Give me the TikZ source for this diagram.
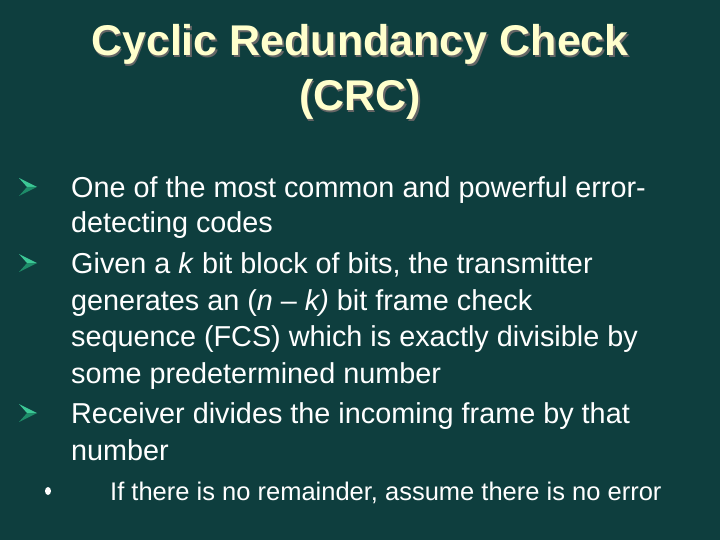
\documentclass[tikz,border=0pt]{standalone}
\usepackage{fontspec}
\setmainfont{Liberation Sans}
\definecolor{bg}{RGB}{14,62,62}
\definecolor{ttl}{RGB}{255,255,204}
\definecolor{blt}{RGB}{60,200,150}
\definecolor{bltd}{RGB}{30,140,105}
\begin{document}
\begin{tikzpicture}[x=1pt,y=-1pt,
  body/.style={anchor=base west,inner sep=0,text=white,font=\fontsize{28.8}{34}\selectfont},
  ttlstyle/.style={inner sep=0,anchor=base,font=\fontsize{43}{50}\bfseries\selectfont}]
\fill[bg] (0,0) rectangle (720,540);
\useasboundingbox (0,0) rectangle (720,540);
\node[ttlstyle,text=black!60] (t1s) at (361.5,57.5) {Cyclic Redundancy Check};
\node[ttlstyle,text=ttl] (t1) at (360,56) {Cyclic Redundancy Check};
\node[ttlstyle,text=black!60] (t2s) at (361.5,112.5) {(CRC)};
\node[ttlstyle,text=ttl] (t2) at (360,111) {(CRC)};
\newcommand{\arrowbul}[1]{%
  \fill[blt] (19,#1-9) -- (37,#1) -- (27,#1) -- cycle;
  \fill[bltd] (19,#1+9) -- (37,#1) -- (27,#1) -- cycle;}
\arrowbul{187}
\arrowbul{263}
\arrowbul{413}
\node[body] (l1) at (71,197) {One of the most common and powerful error-};
\node[body] (l2) at (71,233) {detecting codes};
\node[body] (l3) at (71,273) {Given a \textit{k} bit block of bits, the transmitter};
\node[body] (l4) at (71,310) {generates an (\textit{n} -- \textit{k)} bit frame check};
\node[body] (l5) at (71,346) {sequence (FCS) which is exactly divisible by};
\node[body] (l6) at (71,383) {some predetermined number};
\node[body] (l7) at (71,423) {Receiver divides the incoming frame by that};
\node[body] (l8) at (71,460) {number};
\fill[white] (48,491) ellipse (3 and 4);
\node[body,font=\fontsize{25.5}{30}\selectfont] (s1) at (110,500) {If there is no remainder, assume there is no error};
\end{tikzpicture}
\end{document}
